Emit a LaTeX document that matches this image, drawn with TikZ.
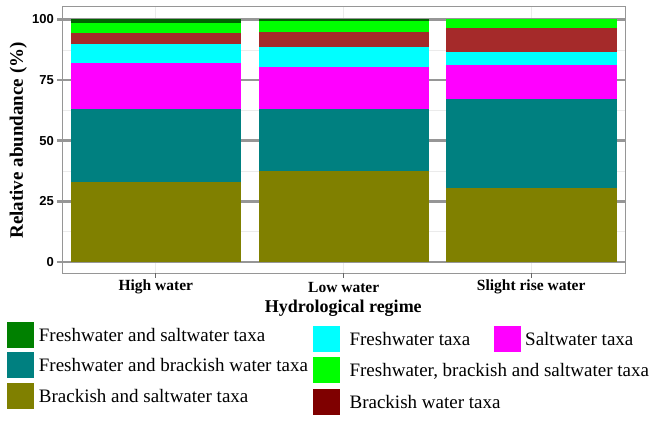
\documentclass[tikz,border=0pt]{standalone}
\usepackage{fontspec}
\setmainfont{Liberation Serif}
\newfontfamily\numfont{Liberation Sans}
\usetikzlibrary{positioning}
\definecolor{olivec}{RGB}{128,128,0}
\definecolor{tealc}{RGB}{0,128,128}
\definecolor{magc}{RGB}{255,0,255}
\definecolor{cyanc}{RGB}{0,255,255}
\definecolor{brownc}{RGB}{165,42,42}
\definecolor{maroonc}{RGB}{127,0,0}
\definecolor{limec}{RGB}{0,255,0}
\definecolor{dgreenc}{RGB}{0,100,0}
\definecolor{greenc}{RGB}{0,128,0}
\definecolor{gridc}{RGB}{150,150,150}
\definecolor{minorc}{RGB}{235,235,235}
\tikzstyle{key} = [rectangle, minimum width=27pt, minimum height=26pt, inner sep=0pt]
\tikzstyle{keytext} = [inner sep=0pt, text depth=0pt, font=\fontsize{19}{22}\selectfont]
\tikzstyle{xlab} = [inner sep=0pt, font=\fontsize{15.5}{18}\selectfont\bfseries]
\tikzstyle{ylab} = [anchor=east, inner sep=0pt, font=\numfont\fontsize{13}{15}\selectfont\bfseries]
\tikzstyle{title} = [inner sep=0pt, font=\fontsize{19}{22}\selectfont\bfseries]
% one slice of a stacked bar: colour, left edge, from %, to %
\newcommand{\seg}[4]{\fill[#1] (#2,{262-2.425*#3}) rectangle ({#2+170.5},{262-2.425*#4});}

\begin{document}
\begin{tikzpicture}[x=1pt, y=-1pt]
		\useasboundingbox (0,0) rectangle (658,422);
		
		% grid
		\foreach \v in {12.5,37.5,62.5,87.5}
			\draw [minorc, line width=0.5pt] (62,{262-2.425*\v}) -- (625,{262-2.425*\v});
		\foreach \x in {155.8,343.7,531.2}
			\draw [minorc, line width=0.8pt] (\x,7) -- (\x,273);
		\foreach \v in {0,25,50,75,100}
			\draw [gridc, line width=2.6pt] (57,{262-2.425*\v}) -- (625,{262-2.425*\v});
		
		% High water
		\seg{olivec}{70.5}{0}{33.1}
		\seg{tealc}{70.5}{33.1}{63.0}
		\seg{magc}{70.5}{63.0}{82.2}
		\seg{cyanc}{70.5}{82.2}{89.8}
		\seg{brownc}{70.5}{89.8}{94.3}
		\seg{limec}{70.5}{94.3}{98.4}
		\seg{dgreenc}{70.5}{98.4}{100}
		% Low water
		\seg{olivec}{258.5}{0}{37.5}
		\seg{tealc}{258.5}{37.5}{63.1}
		\seg{magc}{258.5}{63.1}{80.3}
		\seg{cyanc}{258.5}{80.3}{88.8}
		\seg{brownc}{258.5}{88.8}{94.8}
		\seg{limec}{258.5}{94.8}{99.4}
		\seg{dgreenc}{258.5}{99.4}{100}
		% Slight rise water
		\seg{olivec}{446}{0}{30.6}
		\seg{tealc}{446}{30.6}{67.1}
		\seg{magc}{446}{67.1}{81.2}
		\seg{cyanc}{446}{81.2}{86.5}
		\seg{brownc}{446}{86.5}{96.5}
		\seg{limec}{446}{96.5}{100}
		
		\draw [gridc, line width=1pt] (62,7) rectangle (625,273);
		\foreach \x in {155.8,343.7,531.2}
			\draw [black!60, line width=1pt] (\x,273) -- (\x,277.5);
		
		% axes
		\node (y0) [ylab] at (54,262) {0};
		\node (y25) [ylab] at (54,201.4) {25};
		\node (y50) [ylab] at (54,140.7) {50};
		\node (y75) [ylab] at (54,80.1) {75};
		\node (y100) [ylab] at (54,19.5) {100};
		\node (high) [xlab] at (155.8,287.3) {High water};
		\node (low) [xlab] at (343.7,287.3) {Low water};
		\node (rise) [xlab] at (531.2,287.3) {Slight rise water};
		\node (ytitle) [title, rotate=90] at (18.3,140.5) {Relative abundance (\%)};
		\node (xtitle) [title, font=\fontsize{18}{21}\selectfont\bfseries] at (343.3,308.3) {Hydrological regime};
		
		% legend
		\node (kfs) [key, fill=greenc] at (20.7,334.7) {};
		\node (kfb) [key, fill=tealc] at (20.7,364.7) {};
		\node (kbs) [key, fill=olivec] at (20.7,396.3) {};
		\node (kf) [key, fill=cyanc] at (326.7,339) {};
		\node (kfbs) [key, fill=limec] at (326.7,370.3) {};
		\node (kb) [key, fill=maroonc] at (326.7,401.7) {};
		\node (ks) [key, fill=magc] at (507,339) {};
		\node (tfs) [keytext, right=4.3pt of kfs] {Freshwater and saltwater taxa};
		\node (tfb) [keytext, right=4.3pt of kfb] {Freshwater and brackish water taxa};
		\node (tbs) [keytext, right=4.3pt of kbs] {Brackish and saltwater taxa};
		\node (tf) [keytext, right=9pt of kf] {Freshwater taxa};
		\node (tfbs) [keytext, right=9pt of kfbs] {Freshwater, brackish and saltwater taxa};
		\node (tb) [keytext, right=9pt of kb] {Brackish water taxa};
		\node (ts) [keytext, right=4.3pt of ks] {Saltwater taxa};
	\end{tikzpicture}
\end{document}
